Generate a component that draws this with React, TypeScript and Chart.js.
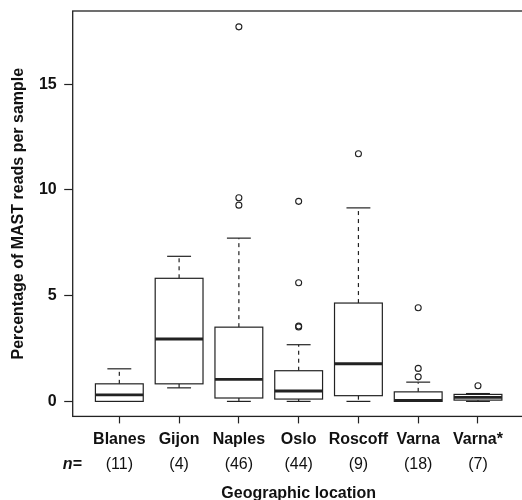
import React, { useEffect, useRef } from 'react';
import { Chart, registerables } from 'chart.js';

Chart.register(...registerables);

// ---- data ----
const categories = ['Blanes', 'Gijon', 'Naples', 'Oslo', 'Roscoff', 'Varna', 'Varna*'];
const sampleSizes = [11, 4, 46, 44, 9, 18, 7];
const whiskerLow = [0, 0.64, 0, 0, 0, 0, 0];
const q1 = [0, 0.83, 0.16, 0.11, 0.27, 0, 0.06];
const medians = [0.31, 2.95, 1.04, 0.49, 1.78, 0.05, 0.19];
const q3 = [0.83, 5.82, 3.51, 1.45, 4.65, 0.45, 0.33];
const whiskerHigh = [1.54, 6.86, 7.72, 2.68, 9.15, 0.91, 0.37];
const outliers = [
  [],
  [],
  [17.71, 9.63, 9.28],
  [9.46, 5.61, 3.52, 3.56],
  [11.71],
  [4.43, 1.56, 1.16],
  [0.74],
];
const yTicks = [0, 5, 10, 15];

const FONT = "'Liberation Sans', Arial, Helvetica, sans-serif";
const LINE = '#222222';
const TEXT = '#111111';

const BOX_HALF = 0.4;
const CAP_HALF = 0.2;

const boxplotPlugin = {
  id: 'boxplotPlugin',
  beforeDatasetsDraw(chart: any) {
    const { ctx } = chart;
    const x = chart.scales.x;
    const y = chart.scales.y;
    const line = (x1: number, y1: number, x2: number, y2: number) => {
      ctx.beginPath();
      ctx.moveTo(x1, y1);
      ctx.lineTo(x2, y2);
      ctx.stroke();
    };
    ctx.save();
    ctx.strokeStyle = LINE;
    ctx.lineWidth = 1.2;
    categories.forEach((_, i) => {
      const p = i + 1;
      const xc = x.getPixelForValue(p);
      const xl = x.getPixelForValue(p - BOX_HALF);
      const xr = x.getPixelForValue(p + BOX_HALF);
      const cl = x.getPixelForValue(p - CAP_HALF);
      const cr = x.getPixelForValue(p + CAP_HALF);
      const yLo = y.getPixelForValue(whiskerLow[i]);
      const yQ1 = y.getPixelForValue(q1[i]);
      const yMed = y.getPixelForValue(medians[i]);
      const yQ3 = y.getPixelForValue(q3[i]);
      const yHi = y.getPixelForValue(whiskerHigh[i]);
      ctx.lineWidth = 1.2;
      ctx.setLineDash([4, 4]);
      line(xc, yQ3, xc, yHi);
      line(xc, yQ1, xc, yLo);
      ctx.setLineDash([]);
      line(cl, yHi, cr, yHi);
      line(cl, yLo, cr, yLo);
      ctx.fillStyle = '#ffffff';
      ctx.fillRect(xl, yQ3, xr - xl, yQ1 - yQ3);
      ctx.strokeRect(xl, yQ3, xr - xl, yQ1 - yQ3);
      ctx.lineWidth = 2.8;
      line(xl, yMed, xr, yMed);
    });
    ctx.restore();
  },
  afterDraw(chart: any) {
    const { ctx, chartArea } = chart;
    ctx.save();
    ctx.strokeStyle = LINE;
    ctx.lineWidth = 1.3;
    ctx.strokeRect(chartArea.left, chartArea.top, chartArea.right - chartArea.left, chartArea.bottom - chartArea.top);
    const xn = chart.scales.xn;
    ctx.fillStyle = TEXT;
    ctx.font = `italic bold 16px ${FONT}`;
    ctx.textAlign = 'center';
    ctx.textBaseline = 'middle';
    ctx.fillText('n=', chartArea.left - 0.5, xn.top + 4.7 + 9.6);
    ctx.restore();
  },
};

const noEdgePadding = (s: any) => {
  s.paddingTop = 0;
  s.paddingBottom = 0;
  s.paddingLeft = 0;
  s.paddingRight = 0;
};

export default function App() {
  const ref = useRef<HTMLCanvasElement>(null);

  useEffect(() => {
    document.body.style.margin = '0';
    const outlierPoints = outliers.flatMap((vals, i) => vals.map((v) => ({ x: i + 1, y: v })));
    const chart = new Chart(ref.current as HTMLCanvasElement, {
      type: 'scatter',
      data: {
        datasets: [
          {
            label: 'Outliers',
            data: outlierPoints,
            xAxisID: 'x',
            yAxisID: 'y',
            pointStyle: 'circle',
            pointRadius: 3,
            pointBorderWidth: 1.1,
            pointBackgroundColor: 'rgba(0,0,0,0)',
            pointBorderColor: LINE,
            showLine: false,
          },
        ],
      },
      options: {
        animation: false,
        responsive: false,
        devicePixelRatio: 1,
        layout: { padding: { top: 11, right: 5.4, bottom: 0, left: 0 } },
        plugins: {
          legend: { display: false },
          tooltip: { enabled: false },
        },
        scales: {
          x: {
            type: 'linear',
            position: 'bottom',
            weight: 0,
            min: 0.22,
            max: 7.78,
            afterBuildTicks: (s: any) => {
              s.ticks = categories.map((_, i) => ({ value: i + 1 }));
            },
            afterFit: (s: any) => {
              s.height = 34;
              noEdgePadding(s);
            },
            border: { display: false },
            grid: {
              display: true,
              drawOnChartArea: false,
              drawTicks: true,
              tickLength: 7,
              tickColor: LINE,
              tickWidth: 1.2,
            },
            ticks: {
              autoSkip: false,
              maxRotation: 0,
              minRotation: 0,
              padding: 7,
              color: TEXT,
              font: { family: FONT, size: 16, weight: 'bold' },
              callback: (v: any) => categories[Math.round(Number(v)) - 1] ?? '',
            },
          },
          xn: {
            type: 'linear',
            position: 'bottom',
            weight: 1,
            min: 0.22,
            max: 7.78,
            afterBuildTicks: (s: any) => {
              s.ticks = categories.map((_, i) => ({ value: i + 1 }));
            },
            afterFit: (s: any) => {
              s.height = 55.6;
              noEdgePadding(s);
            },
            border: { display: false },
            grid: { display: false, drawTicks: false },
            ticks: {
              autoSkip: false,
              maxRotation: 0,
              minRotation: 0,
              padding: 4.7,
              color: TEXT,
              font: { family: FONT, size: 16 },
              callback: (v: any) => {
                const n = sampleSizes[Math.round(Number(v)) - 1];
                return n === undefined ? '' : `(${n})`;
              },
            },
            title: {
              display: true,
              text: 'Geographic location',
              color: TEXT,
              font: { family: FONT, size: 16, weight: 'bold' },
              padding: { top: 0, bottom: 2.9 },
            },
          },
          y: {
            type: 'linear',
            position: 'left',
            min: -0.71,
            max: 18.46,
            afterBuildTicks: (s: any) => {
              s.ticks = yTicks.map((v) => ({ value: v }));
            },
            afterFit: (s: any) => {
              s.width = 72.7;
              noEdgePadding(s);
            },
            border: { display: false },
            grid: {
              display: true,
              drawOnChartArea: false,
              drawTicks: true,
              tickLength: 8.5,
              tickColor: LINE,
              tickWidth: 1.2,
            },
            ticks: {
              padding: 7.5,
              color: TEXT,
              font: { family: FONT, size: 16, weight: 'bold' },
            },
            title: {
              display: true,
              text: 'Percentage of MAST reads per sample',
              color: TEXT,
              font: { family: FONT, size: 16, weight: 'bold' },
              padding: { top: 9.2, bottom: 0 },
            },
          },
        },
      },
      plugins: [boxplotPlugin],
    } as any);
    return () => chart.destroy();
  }, []);

  return (
    <div style={{ width: 522, height: 500, overflow: 'hidden', background: '#ffffff' }}>
      <canvas ref={ref} width={530} height={506} style={{ width: 530, height: 506, display: 'block' }} />
    </div>
  );
}
